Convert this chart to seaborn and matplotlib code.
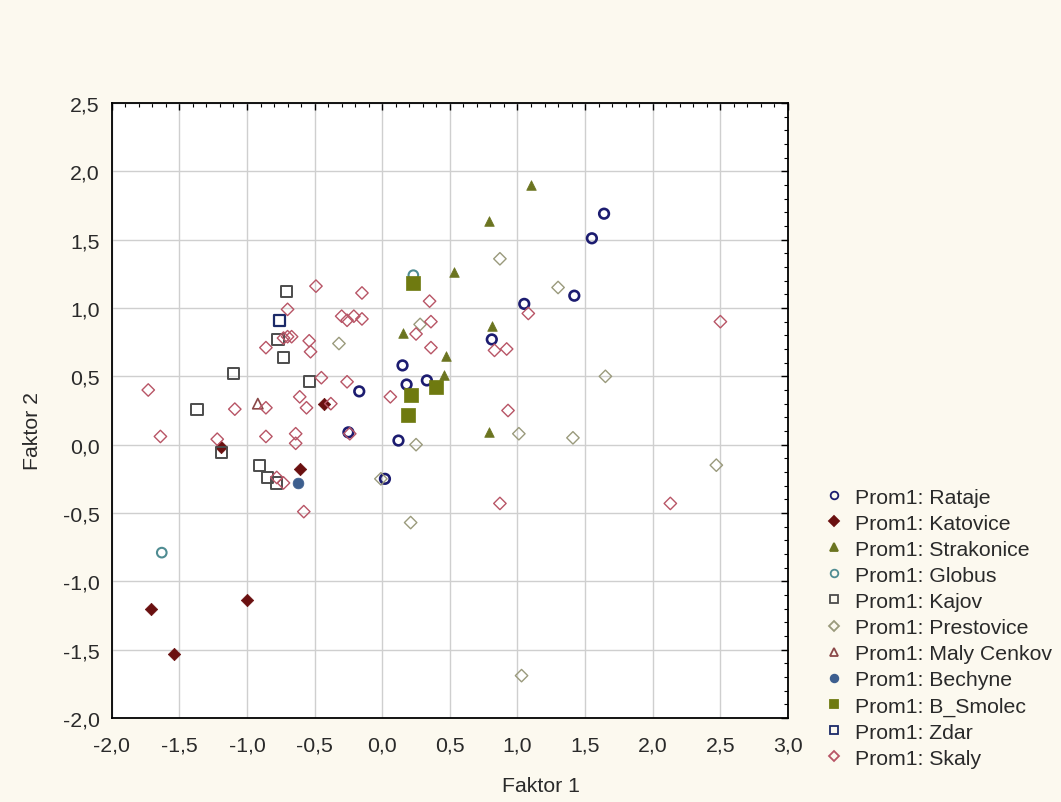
import numpy as np
import pandas as pd
import matplotlib
matplotlib.use("Agg")
import matplotlib.pyplot as plt
import seaborn as sns
from matplotlib.lines import Line2D
from matplotlib.ticker import MultipleLocator, FuncFormatter

# ---------------- data ----------------
groups = ["Rataje", "Katovice", "Strakonice", "Globus", "Kajov", "Prestovice",
          "Maly Cenkov", "Bechyne", "B_Smolec", "Zdar", "Skaly"]

rataje_x = [1.64, 1.55, 1.42, 1.05, 0.81, 0.15, 0.18, 0.33, 0.12, -0.17, -0.25, 0.02]
rataje_y = [1.69, 1.51, 1.09, 1.03, 0.77, 0.58, 0.44, 0.47, 0.03, 0.39, 0.09, -0.25]

katovice_x = [-1.71, -1.54, -1.00, -0.61, -0.43, -1.19]
katovice_y = [-1.20, -1.53, -1.14, -0.18, 0.30, -0.02]

strakonice_x = [1.10, 0.79, 0.53, 0.81, 0.47, 0.46, 0.79, 0.15]
strakonice_y = [1.90, 1.64, 1.26, 0.87, 0.65, 0.51, 0.09, 0.82]

globus_x = [0.23, -1.63]
globus_y = [1.24, -0.79]

kajov_x = [-0.71, -0.77, -0.73, -0.54, -1.37, -1.10, -0.91, -0.85, -0.78, -1.19]
kajov_y = [1.12, 0.77, 0.64, 0.46, 0.26, 0.52, -0.15, -0.24, -0.28, -0.06]

prestovice_x = [0.87, 1.30, 1.65, 1.01, 1.41, 2.47, 0.28, -0.32, 0.21, 0.25, 1.03, -0.01]
prestovice_y = [1.36, 1.15, 0.50, 0.08, 0.05, -0.15, 0.88, 0.74, -0.57, 0.00, -1.69, -0.25]

malycenkov_x = [-0.92]
malycenkov_y = [0.30]

bechyne_x = [-0.62]
bechyne_y = [-0.28]

bsmolec_x = [0.23, 0.21, 0.19, 0.40]
bsmolec_y = [1.18, 0.36, 0.22, 0.42]

zdar_x = [-0.76]
zdar_y = [0.91]

skaly_x = [-1.73, -1.09, -0.49, -0.15, -0.70, -0.30, -0.26, -0.21, -0.15, -0.73, -0.70,
           -0.67, -0.86, -0.54, -0.53, 0.35, 0.36, 0.25, 0.36, -0.45, -0.26, -0.61,
           -0.56, 0.06, -0.86, -0.38, -1.64, -1.22, -0.86, -0.64, -0.64, -0.78, -0.73,
           -0.58, -0.24, 1.08, 0.83, 0.92, 2.50, 0.93, 0.87, 2.13]
skaly_y = [0.40, 0.26, 1.16, 1.11, 0.99, 0.94, 0.91, 0.94, 0.92, 0.78, 0.79,
           0.79, 0.71, 0.76, 0.68, 1.05, 0.90, 0.81, 0.71, 0.49, 0.46, 0.35,
           0.27, 0.35, 0.27, 0.30, 0.06, 0.04, 0.06, 0.08, 0.01, -0.24, -0.28,
           -0.49, 0.08, 0.96, 0.69, 0.70, 0.90, 0.25, -0.43, -0.43]

xs = [rataje_x, katovice_x, strakonice_x, globus_x, kajov_x, prestovice_x,
      malycenkov_x, bechyne_x, bsmolec_x, zdar_x, skaly_x]
ys = [rataje_y, katovice_y, strakonice_y, globus_y, kajov_y, prestovice_y,
      malycenkov_y, bechyne_y, bsmolec_y, zdar_y, skaly_y]

frames = []
for g, gx, gy in zip(groups, xs, ys):
    frames.append(pd.DataFrame({"f1": gx, "f2": gy, "grp": g}))
df = pd.concat(frames, ignore_index=True)

# ---------------- styles ----------------
styles = {
    "Rataje":      dict(marker="o", color="#1c1c70", filled=False, s=48, lw=1.9),
    "Katovice":    dict(marker="D", color="#6a1010", filled=True,  s=40, lw=0.5),
    "Strakonice":  dict(marker="^", color="#6b7420", filled=True,  s=48, lw=0.5),
    "Globus":      dict(marker="o", color="#4f8c92", filled=False, s=48, lw=1.5),
    "Kajov":       dict(marker="s", color="#4c4c4c", filled=False, s=65, lw=1.4),
    "Prestovice":  dict(marker="D", color="#9a9a7c", filled=False, s=40, lw=1.0),
    "Maly Cenkov": dict(marker="^", color="#8a4848", filled=False, s=55, lw=1.2),
    "Bechyne":     dict(marker="o", color="#3d5f8f", filled=True,  s=60, lw=0.5),
    "B_Smolec":    dict(marker="s", color="#6f7a10", filled=True,  s=95, lw=0.5),
    "Zdar":        dict(marker="s", color="#1c2a68", filled=False, s=65, lw=1.6),
    "Skaly":       dict(marker="D", color="#b85566", filled=False, s=40, lw=1.0),
}

FS = 15.3
bg = "#fcf9ef"
fig = plt.figure(figsize=(10.61, 8.03), dpi=100, facecolor=bg)
sns.set_style("white")
plt.rcParams["font.family"] = ["Liberation Sans", "DejaVu Sans"]
ax = fig.add_axes([0.1053, 0.1046, 0.6374, 0.7659])
ax.set_facecolor("white")

for g in groups:
    st = styles[g]
    sub = df[df["grp"] == g]
    sns.scatterplot(data=sub, x="f1", y="f2", ax=ax, marker=st["marker"], s=st["s"],
                    color=st["color"], linewidth=st["lw"], legend=False, zorder=3)
    coll = ax.collections[-1]
    coll.set_edgecolor(st["color"])
    if st["filled"]:
        coll.set_facecolor(st["color"])
    else:
        coll.set_facecolor("none")
    coll.set_linewidth(st["lw"])

ax.set_xlim(-2.0, 3.0)
ax.set_ylim(-2.0, 2.5)
ax.xaxis.set_major_locator(MultipleLocator(0.5))
ax.yaxis.set_major_locator(MultipleLocator(0.5))
ax.xaxis.set_minor_locator(MultipleLocator(0.1))
ax.yaxis.set_minor_locator(MultipleLocator(0.1))
fmt = FuncFormatter(lambda v, p: f"{v:.1f}".replace(".", ",").replace("-0,0", "0,0"))
ax.xaxis.set_major_formatter(fmt)
ax.yaxis.set_major_formatter(fmt)
ax.grid(True, which="major", color="#cfcfcf", linewidth=1.0, zorder=0)
ax.set_axisbelow(True)
ax.tick_params(which="both", direction="in", top=True, right=True, colors="black",
               labelsize=FS, labelcolor="#2a2a2a")
ax.tick_params(which="major", length=5, width=1)
ax.tick_params(which="minor", length=3, width=0.8)
ax.tick_params(axis="x", which="major", pad=12.5)
ax.tick_params(axis="y", which="major", pad=8.5)
for sp in ax.spines.values():
    sp.set_color("black")
    sp.set_linewidth(1.3)

ax.set_xlabel("Faktor 1", fontsize=FS, color="#2a2a2a")
ax.set_ylabel("Faktor 2", fontsize=FS, color="#2a2a2a")
ax.xaxis.set_label_coords(0.635, -0.094)
ax.yaxis.set_label_coords(-0.1035, 0.468)

handles = []
for g in groups:
    st = styles[g]
    handles.append(Line2D([0], [0], linestyle="none", marker=st["marker"],
                          markersize=5.5,
                          markeredgecolor=st["color"],
                          markerfacecolor=st["color"] if st["filled"] else "none",
                          markeredgewidth=1.3))
leg = fig.legend(handles, [f"Prom1: {g}" for g in groups], loc="upper left",
                 bbox_to_anchor=(0.768, 0.4022), frameon=False, fontsize=FS,
                 handlelength=1.0, handletextpad=0.49, labelspacing=0.334,
                 borderaxespad=0)
for t in leg.get_texts():
    t.set_color("#2a2a2a")

fig.savefig("out.png", dpi=100, facecolor=bg)
